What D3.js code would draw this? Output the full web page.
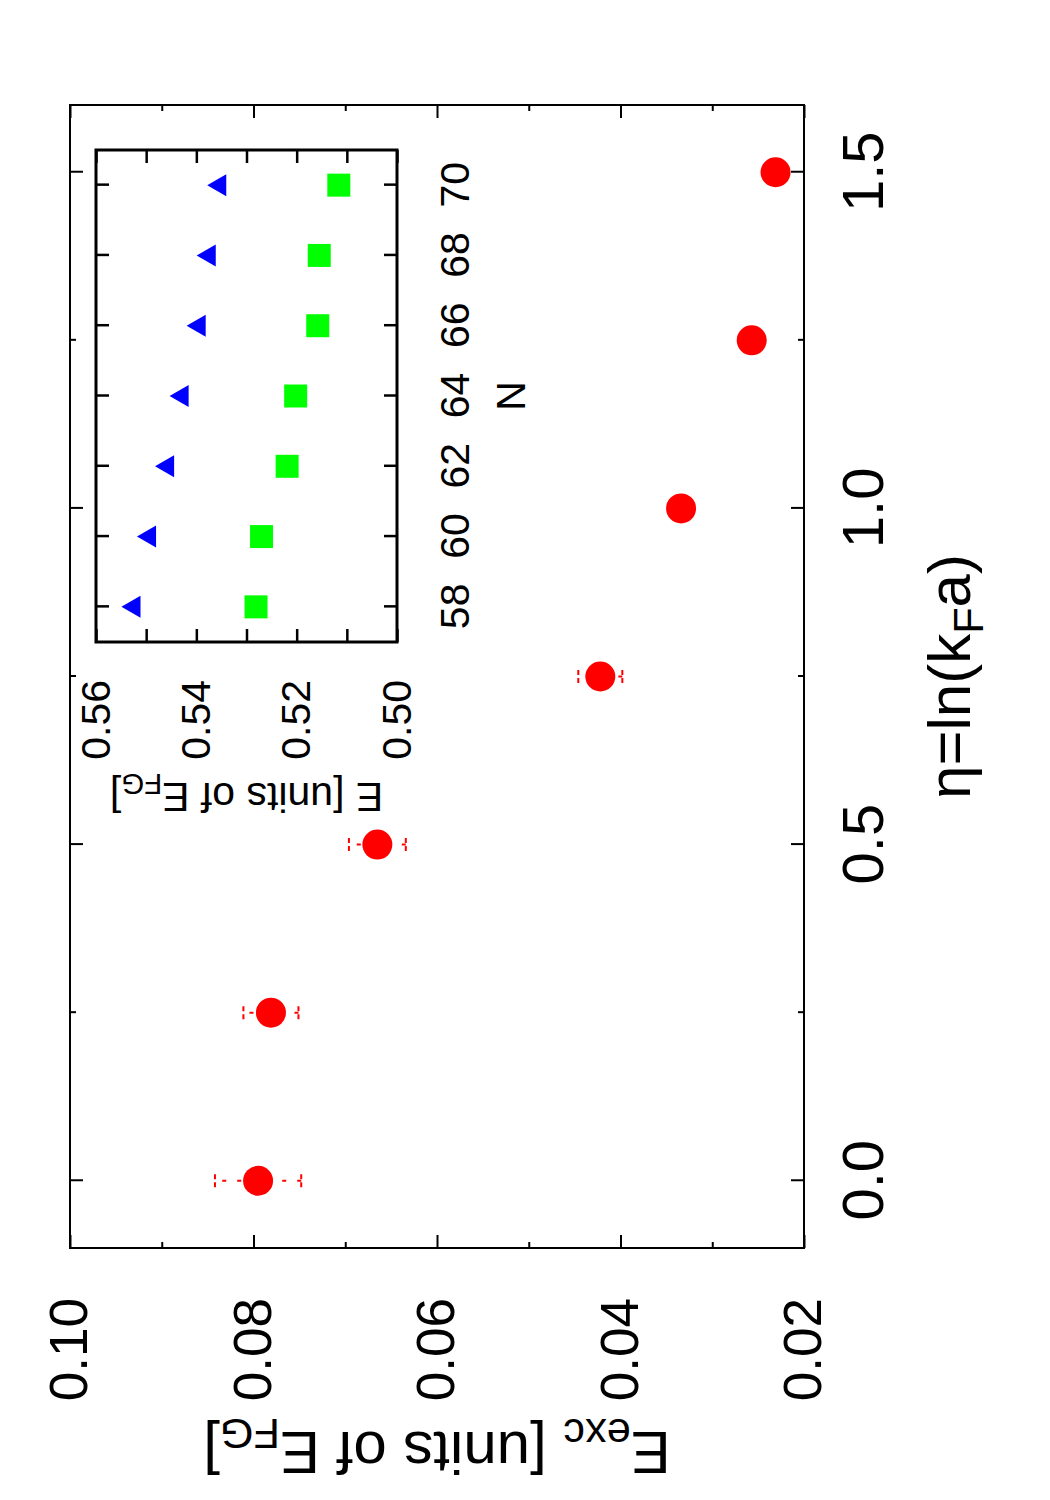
<!DOCTYPE html>
<html><head><meta charset="utf-8">
<script src="https://cdn.jsdelivr.net/npm/d3@7"></script>
<style>
body{margin:0;background:#fff}
svg{display:block}
text{font-family:"Liberation Sans",Arial,Helvetica,sans-serif;fill:#000}
</style>
</head><body>
<svg id="chart" width="1050" height="1500"></svg>
<script>
// ---- main panel data ----
const etaValues   = [0.0, 0.25, 0.5, 0.75, 1.0, 1.25, 1.5];
const excEnergy   = [0.0795, 0.0781, 0.0665, 0.0422, 0.0334, 0.0257, 0.0231];
const excError    = [0.0047, 0.0030, 0.0031, 0.0024, 0.0010, 0.0010, 0.0010];
const etaMajorTicks = [0.0, 0.5, 1.0, 1.5];
const etaMinorTicks = [0.25, 0.75, 1.25];
const excMajorTicks = [0.02, 0.04, 0.06, 0.08, 0.10];
const excMinorTicks = [0.03, 0.05, 0.07, 0.09];

// ---- inset data ----
const insetN        = [58, 60, 62, 64, 66, 68, 70];
const triangleE     = [0.5524, 0.5493, 0.5457, 0.5428, 0.5394, 0.5374, 0.5353];
const squareE       = [0.5281, 0.5270, 0.5219, 0.5202, 0.5158, 0.5155, 0.5116];
const insetNTicks   = [58, 60, 62, 64, 66, 68, 70];
const insetETicks   = [0.50, 0.51, 0.52, 0.53, 0.54, 0.55, 0.56];

const svg = d3.select("#chart");
// the figure is a landscape page rotated a quarter turn counter-clockwise
const g = svg.append("g").attr("transform", "translate(0,1500) rotate(-90)");

const M = {left: 252, right: 1395, top: 70, bottom: 804};
const x = d3.scaleLinear().domain([-0.1, 1.6]).range([M.left, M.right]);
const y = d3.scaleLinear().domain([0.02, 0.10]).range([M.bottom, M.top]);

const I = {left: 858, right: 1350, top: 96, bottom: 397};
const xi = d3.scaleLinear().domain([57, 71]).range([I.left, I.right]);
const yi = d3.scaleLinear().domain([0.50, 0.56]).range([I.bottom, I.top]);

function styleAxis(sel, fs, sw) {
  sel.select(".domain").remove();
  sel.selectAll(".tick line").attr("stroke", "#000").attr("stroke-width", sw);
  sel.selectAll("text").attr("font-size", fs).attr("font-family", '"Liberation Sans", Arial, sans-serif').attr("fill", "#000");
  sel.attr("font-family", null).attr("font-size", null);
}
function addAxis(parent, gen, tr, fs, sw) {
  const a = parent.append("g").attr("transform", tr).call(gen);
  styleAxis(a, fs, sw);
  return a;
}

// ---- main frame axes ----
const MF = 58;
addAxis(g, d3.axisBottom(x).tickValues(etaMajorTicks).tickSize(-13).tickPadding(38).tickFormat(d3.format(".1f")), `translate(0,${M.bottom})`, MF, 2);
addAxis(g, d3.axisBottom(x).tickValues(etaMinorTicks).tickSize(-6).tickFormat(""), `translate(0,${M.bottom})`, MF, 2);
addAxis(g, d3.axisTop(x).tickValues(etaMajorTicks).tickSize(-13).tickFormat(""), `translate(0,${M.top})`, MF, 2);
addAxis(g, d3.axisTop(x).tickValues(etaMinorTicks).tickSize(-6).tickFormat(""), `translate(0,${M.top})`, MF, 2);
addAxis(g, d3.axisLeft(y).tickValues(excMajorTicks).tickSize(-13).tickPadding(50).tickFormat(d3.format(".2f")), `translate(${M.left},0)`, 53, 2);
addAxis(g, d3.axisLeft(y).tickValues(excMinorTicks).tickSize(-6).tickFormat(""), `translate(${M.left},0)`, MF, 2);
addAxis(g, d3.axisRight(y).tickValues(excMajorTicks).tickSize(-13).tickFormat(""), `translate(${M.right},0)`, MF, 2);
addAxis(g, d3.axisRight(y).tickValues(excMinorTicks).tickSize(-6).tickFormat(""), `translate(${M.right},0)`, MF, 2);

g.append("rect").attr("x", M.left).attr("y", M.top)
  .attr("width", M.right - M.left).attr("height", M.bottom - M.top)
  .attr("fill", "none").attr("stroke", "#000").attr("stroke-width", 2);

// rich text helper
function richText(parent, parts, fs) {
  const t = parent.append("text").attr("font-size", fs);
  const shift = fs * 0.22;
  parts.forEach(p => {
    const ts = t.append("tspan").text(p.t);
    if (p.sub) ts.attr("font-size", fs * 0.72).attr("dy", shift);
    else if (p.after) ts.attr("dy", -shift);
  });
  return t;
}

// axis labels
richText(g, [{t:"\u03b7=ln(k"},{t:"F",sub:true},{t:"a)",after:true}], 60)
  .attr("x", (M.left + M.right) / 2).attr("y", 970).attr("text-anchor", "middle");
richText(g, [{t:"E"},{t:"exc",sub:true},{t:" [units of E",after:true},{t:"FG",sub:true},{t:"]",after:true}], 60)
  .attr("text-anchor", "middle")
  .attr("transform", `translate(68,${(M.top + M.bottom) / 2}) rotate(-90)`);

// ---- error bars + points ----
const errG = g.append("g").attr("stroke", "#ff0000").attr("stroke-width", 2);
etaValues.forEach((e, i) => {
  const cx = x(e), lo = y(excEnergy[i] - excError[i]), hi = y(excEnergy[i] + excError[i]);
  errG.append("line").attr("x1", cx).attr("x2", cx).attr("y1", lo).attr("y2", hi).attr("stroke-dasharray", "4,11");
  [lo, hi].forEach(yy => errG.append("line").attr("x1", cx - 6.5).attr("x2", cx + 6.5).attr("y1", yy).attr("y2", yy).attr("stroke-dasharray", "5,3"));
});
g.append("g").selectAll("circle").data(etaValues).join("circle")
  .attr("cx", d => x(d)).attr("cy", (d, i) => y(excEnergy[i])).attr("r", 15).attr("fill", "#ff0000");

// ---- inset ----
const ig = g.append("g");
ig.append("rect").attr("x", I.left).attr("y", I.top).attr("width", I.right - I.left).attr("height", I.bottom - I.top)
  .attr("fill", "#fff").attr("stroke", "none");
const IF = 41;
addAxis(ig, d3.axisBottom(xi).tickValues(insetNTicks).tickSize(-13).tickPadding(43).tickFormat(d3.format("d")), `translate(0,${I.bottom})`, IF, 2.5);
addAxis(ig, d3.axisTop(xi).tickValues(insetNTicks).tickSize(-13).tickFormat(""), `translate(0,${I.top})`, IF, 2.5);
addAxis(ig, d3.axisLeft(yi).tickValues(insetETicks).tickSize(-13).tickPadding(38)
  .tickFormat(d => (Math.round(d * 100) % 2 === 0) ? d3.format(".2f")(d) : ""), `translate(${I.left},0)`, IF, 2.5);
addAxis(ig, d3.axisRight(yi).tickValues(insetETicks).tickSize(-13).tickFormat(""), `translate(${I.right},0)`, IF, 2.5);
ig.append("rect").attr("x", I.left).attr("y", I.top).attr("width", I.right - I.left).attr("height", I.bottom - I.top)
  .attr("fill", "none").attr("stroke", "#000").attr("stroke-width", 3);

ig.append("text").attr("x", (I.left + I.right) / 2).attr("y", 525).attr("text-anchor", "middle").attr("font-size", IF).text("N");
richText(ig, [{t:"E [units of E"},{t:"FG",sub:true},{t:"]",after:true}], IF)
  .attr("text-anchor", "middle")
  .attr("transform", `translate(717,${(I.top + I.bottom) / 2}) rotate(-90)`);

ig.append("g").selectAll("path").data(insetN).join("path")
  .attr("d", d3.symbol().type(d3.symbolTriangle).size(210))
  .attr("transform", (d, i) => `translate(${xi(d)},${yi(triangleE[i])})`)
  .attr("fill", "#0000ff");
ig.append("g").selectAll("path").data(insetN).join("path")
  .attr("d", d3.symbol().type(d3.symbolSquare).size(529))
  .attr("transform", (d, i) => `translate(${xi(d)},${yi(squareE[i])})`)
  .attr("fill", "#00ff00");
</script>
</body></html>
